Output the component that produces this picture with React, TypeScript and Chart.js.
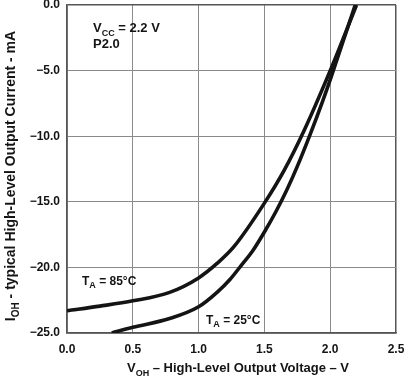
import React, { useEffect, useRef } from "react";
import { Chart, registerables } from "chart.js";

Chart.register(...registerables);

// Data (V_OH in volts, I_OH in mA)
const vohT85 = [0, 0.25, 0.5, 0.78, 1.0, 1.14, 1.27, 1.5, 1.65, 1.8, 2.0, 2.2];
const iohT85 = [-23.3, -22.95, -22.55, -21.9, -20.8, -19.7, -18.4, -15.1, -12.6, -9.6, -5.0, 0];

const vohT25 = [0.34, 0.5, 0.78, 1.0, 1.14, 1.24, 1.32, 1.41, 1.5, 1.59, 1.67, 1.75, 1.85, 1.94, 2.01, 2.19];
const iohT25 = [-25.0, -24.57, -23.9, -23.0, -21.9, -20.9, -19.9, -18.75, -17.3, -15.7, -14.1, -12.3, -9.8, -7.4, -5.4, 0];

const xTicks = [0, 0.5, 1.0, 1.5, 2.0, 2.5];
const yTicks = [0, -5, -10, -15, -20, -25];

const FONT = '"Liberation Sans", Arial, sans-serif';
const INK = "#141414";

type Part = { t: string; sub?: boolean };

function drawRich(ctx: CanvasRenderingContext2D, parts: Part[], x: number, y: number, size: number, align: "left" | "center") {
  const subSize = Math.round(size * 0.72);
  const widths = parts.map((p) => {
    ctx.font = `bold ${p.sub ? subSize : size}px ${FONT}`;
    return ctx.measureText(p.t).width;
  });
  const total = widths.reduce((a, b) => a + b, 0);
  let cx = align === "center" ? x - total / 2 : x;
  ctx.textAlign = "left";
  ctx.textBaseline = "alphabetic";
  parts.forEach((p, i) => {
    ctx.font = `bold ${p.sub ? subSize : size}px ${FONT}`;
    ctx.fillText(p.t, cx, p.sub ? y + size * 0.28 : y);
    cx += widths[i];
  });
}

const textPlugin = {
  id: "texts",
  afterDraw(chart: any) {
    const ctx: CanvasRenderingContext2D = chart.ctx;
    ctx.save();
    ctx.fillStyle = INK;
    // annotations
    drawRich(ctx, [{ t: "V" }, { t: "CC", sub: true }, { t: " = 2.2 V" }], 93, 32, 13, "left");
    drawRich(ctx, [{ t: "P2.0" }], 93, 48, 13, "left");
    drawRich(ctx, [{ t: "T" }, { t: "A", sub: true }, { t: " = 85°C" }], 82, 285, 12, "left");
    drawRich(ctx, [{ t: "T" }, { t: "A", sub: true }, { t: " = 25°C" }], 206, 324, 12, "left");
    // x title
    drawRich(ctx, [{ t: "V" }, { t: "OH", sub: true }, { t: " \u2013 High-Level Output Voltage \u2013 V" }], 238, 372, 13, "center");
    // y title
    ctx.translate(15, 176);
    ctx.rotate(-Math.PI / 2);
    drawRich(ctx, [{ t: "I" }, { t: "OH", sub: true }, { t: " - typical High-Level Output Current - mA" }], 0, 0, 14, "center");
    ctx.restore();
  },
};

function fmt(v: number) {
  const s = Math.abs(v).toFixed(1);
  return v < 0 ? "\u2212" + s : s;
}

export default function App() {
  const ref = useRef<HTMLCanvasElement>(null);
  useEffect(() => {
    if (!ref.current) return;
    const chart = new Chart(ref.current, {
      type: "scatter",
      data: {
        datasets: [
          {
            label: "TA = 85°C",
            data: vohT85.map((x, i) => ({ x, y: iohT85[i] })),
            showLine: true,
            borderColor: INK,
            borderWidth: 3.6,
            pointRadius: 0,
            cubicInterpolationMode: "monotone",
          },
          {
            label: "TA = 25°C",
            data: vohT25.map((x, i) => ({ x, y: iohT25[i] })),
            showLine: true,
            borderColor: INK,
            borderWidth: 3.6,
            pointRadius: 0,
            cubicInterpolationMode: "monotone",
          },
        ],
      },
      options: {
        animation: false,
        responsive: false,
        devicePixelRatio: 1,
        layout: { padding: { left: 0, right: 8, top: 5, bottom: 0 } },
        plugins: { legend: { display: false }, tooltip: { enabled: false } },
        scales: {
          x: {
            type: "linear",
            min: 0,
            max: 2.5,
            afterBuildTicks: (s: any) => {
              s.ticks = xTicks.map((value) => ({ value }));
            },
            afterFit: (s: any) => {
              s.height = 45;
              s.paddingLeft = 0;
              s.paddingRight = 0;
            },
            grid: {
              color: (c: any) => (c.tick && c.tick.value === 2.5 ? "#555" : "#8a8a8a"),
              lineWidth: (c: any) => (c.tick && c.tick.value === 2.5 ? 1.5 : 1),
              drawTicks: false,
            },
            border: { color: "#555", width: 1.5 },
            ticks: {
              padding: 9,
              color: INK,
              font: { family: FONT, size: 12, weight: "bold" },
              callback: (v: any) => fmt(Number(v)),
              maxRotation: 0,
            },
          },
          y: {
            type: "linear",
            min: -25,
            max: 0,
            afterBuildTicks: (s: any) => {
              s.ticks = yTicks.map((value) => ({ value }));
            },
            afterFit: (s: any) => {
              s.width = 67;
              s.paddingTop = 0;
              s.paddingBottom = 0;
            },
            grid: {
              color: (c: any) => (c.tick && c.tick.value === 0 ? "#555" : "#8a8a8a"),
              lineWidth: (c: any) => (c.tick && c.tick.value === 0 ? 1.5 : 1),
              drawTicks: false,
            },
            border: { color: "#555", width: 1.5 },
            ticks: {
              padding: 7,
              color: INK,
              font: { family: FONT, size: 12, weight: "bold" },
              callback: (v: any) => fmt(Number(v)),
            },
          },
        },
      },
      plugins: [textPlugin],
    });
    return () => chart.destroy();
  }, []);
  return (
    <div style={{ position: "absolute", left: 0, top: 0, width: 404, height: 378, background: "#fff" }}>
      <canvas ref={ref} width={404} height={378} style={{ display: "block" }} />
    </div>
  );
}
